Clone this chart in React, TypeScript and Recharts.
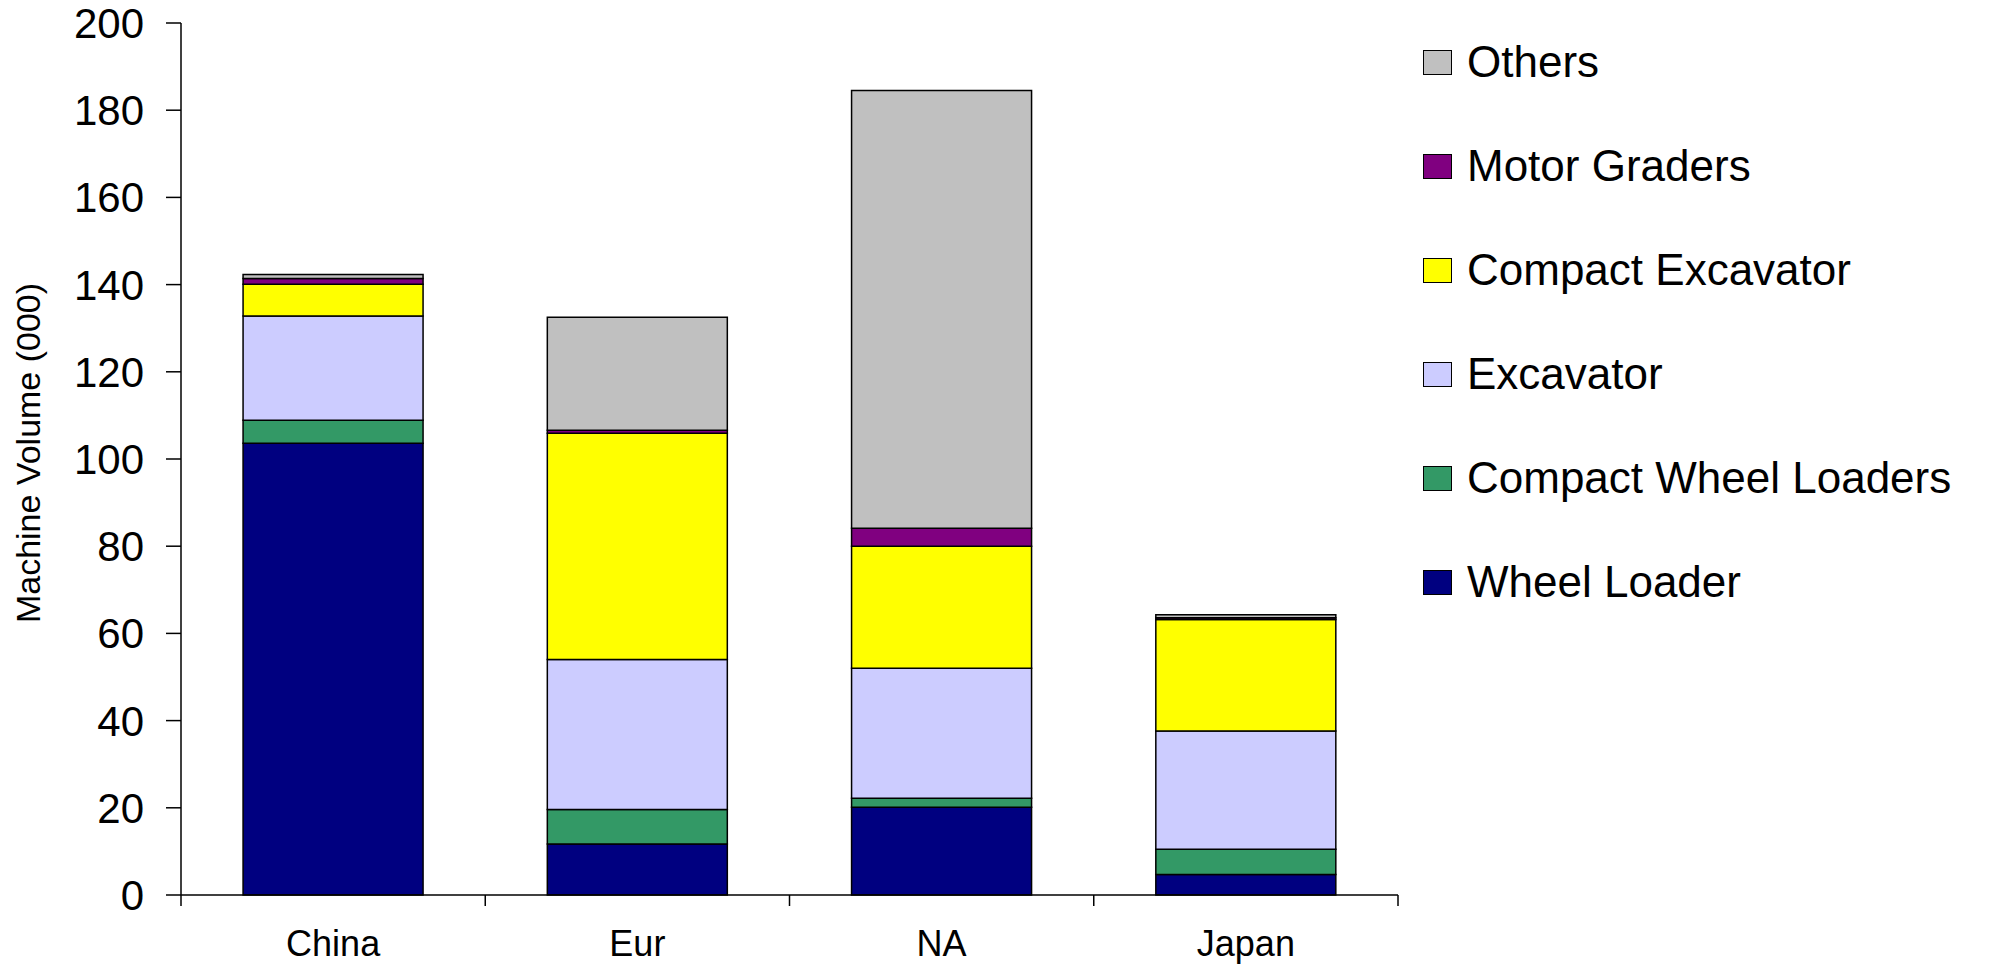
import { BarChart, Bar, XAxis, YAxis, Legend, Label } from "recharts";

// regional machine volumes, thousands of units
const categories = ["China", "Eur", "NA", "Japan"];
const wheelLoader = [103.6, 11.7, 20.1, 4.7];
const compactWheelLoaders = [5.3, 7.9, 2.1, 5.8];
const excavator = [23.9, 34.4, 29.8, 27.1];
const compactExcavator = [7.3, 51.9, 28.0, 25.6];
const motorGraders = [1.3, 0.7, 4.1, 0.4];
const others = [0.9, 25.9, 100.4, 0.7];
const yTicks = [0, 20, 40, 60, 80, 100, 120, 140, 160, 180, 200];

// stacking order, bottom to top
const series = [
  { key: "wheelLoader", name: "Wheel Loader", color: "#000080", values: wheelLoader },
  { key: "compactWheelLoaders", name: "Compact Wheel Loaders", color: "#339966", values: compactWheelLoaders },
  { key: "excavator", name: "Excavator", color: "#CCCCFF", values: excavator },
  { key: "compactExcavator", name: "Compact Excavator", color: "#FFFF00", values: compactExcavator },
  { key: "motorGraders", name: "Motor Graders", color: "#800080", values: motorGraders },
  { key: "others", name: "Others", color: "#C0C0C0", values: others },
];

const data = categories.map((region, i) => {
  const row: Record<string, string | number> = { region };
  series.forEach((s) => {
    row[s.key] = s.values[i];
  });
  return row;
});

const FONT = "'Liberation Sans', Arial, sans-serif";

// category label plus boundary tick marks between categories
function RegionTick(props: any) {
  const { x, y, payload, index } = props;
  const half = payload?.offset ?? 152;
  const last = index === categories.length - 1;
  return (
    <g>
      <line x1={x - half} y1={y} x2={x - half} y2={y + 11} stroke="#000" strokeWidth={1.5} />
      {last && <line x1={x + half} y1={y} x2={x + half} y2={y + 11} stroke="#000" strokeWidth={1.5} />}
      <text
        x={x}
        y={y + 48}
        textAnchor="middle"
        dominantBaseline="central"
        fontSize={36}
        fontFamily={FONT}
        fill="#000"
      >
        {payload.value}
      </text>
    </g>
  );
}

// legend lists the stack top-down
function renderLegend() {
  const items = [...series].reverse();
  return (
    <div style={{ fontFamily: FONT }}>
      {items.map((item) => (
        <div key={item.key} style={{ height: 104, display: "flex", alignItems: "center" }}>
          <span
            style={{
              display: "inline-block",
              width: 29,
              height: 25,
              boxSizing: "border-box",
              background: item.color,
              border: "1.5px solid #000",
              marginRight: 15,
            }}
          />
          <span style={{ fontSize: 44, color: "#000", whiteSpace: "nowrap" }}>{item.name}</span>
        </div>
      ))}
    </div>
  );
}

export default function App() {
  return (
    <div style={{ position: "absolute", left: 0, top: 0, background: "#fff" }}>
      <BarChart
        width={1996}
        height={964}
        data={data}
        margin={{ top: 23, right: 598, bottom: 0, left: 0 }}
        barCategoryGap="20.4%"
      >
        <XAxis
          dataKey="region"
          height={69}
          axisLine={{ stroke: "#000", strokeWidth: 1.5 }}
          tickLine={false}
          tickSize={0}
          tickMargin={0}
          tick={<RegionTick />}
          interval={0}
        />
        <YAxis
          width={181}
          domain={[0, 200]}
          ticks={yTicks}
          interval={0}
          axisLine={{ stroke: "#000", strokeWidth: 1.5 }}
          tickLine={{ stroke: "#000", strokeWidth: 1.5 }}
          tickSize={15}
          tickMargin={22}
          tick={{ fontSize: 42, fill: "#000", fontFamily: FONT }}
        >
          <Label
            content={(p: any) => {
              const vb = p.viewBox;
              const cx = vb.x + 28;
              const cy = vb.y + vb.height / 2 - 6;
              return (
                <text
                  x={cx}
                  y={cy}
                  transform={`rotate(-90 ${cx} ${cy})`}
                  textAnchor="middle"
                  dominantBaseline="central"
                  fontSize={34}
                  fontFamily={FONT}
                  fill="#000"
                >
                  Machine Volume (000)
                </text>
              );
            }}
          />
        </YAxis>
        <Legend
          layout="horizontal"
          verticalAlign="middle"
          align="center"
          width={570}
          content={renderLegend}
          wrapperStyle={{ left: 1423, top: 10 }}
        />
        {series.map((s) => (
          <Bar
            key={s.key}
            dataKey={s.key}
            name={s.name}
            stackId="volume"
            fill={s.color}
            stroke="#000"
            strokeWidth={1.5}
            isAnimationActive={false}
          />
        ))}
      </BarChart>
    </div>
  );
}
